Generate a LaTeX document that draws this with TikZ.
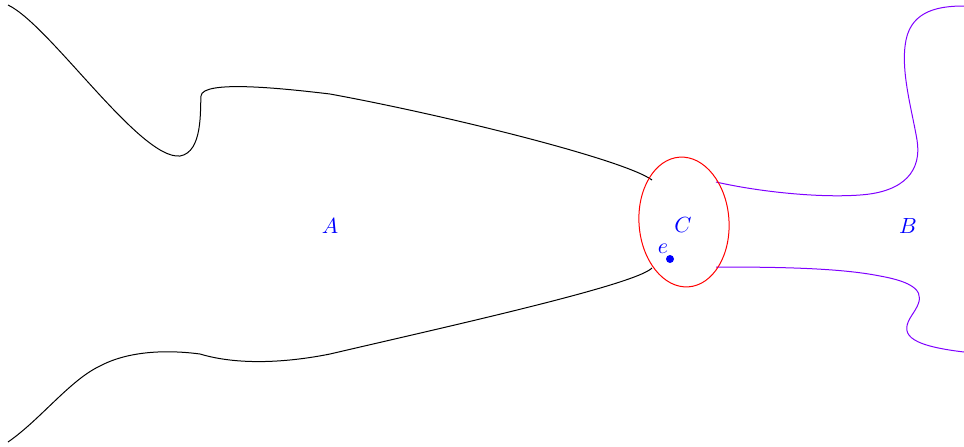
\documentclass[tikz,border=0pt]{standalone}
\usepackage{amsmath, amssymb}
\usepackage{tikz}
\usetikzlibrary{calc}
\usepackage{xcolor}
\definecolor{edgeviolet}{RGB}{127,0,255}
\tikzset{
  shoreline/.style={black, line width=0.5pt},
  rightline/.style={edgeviolet, line width=0.5pt},
  ringline/.style={red, line width=0.5pt},
  regionlabel/.style={text=blue, inner sep=1pt, font=\fontsize{11}{13}\selectfont},
}
\begin{document}
\begin{tikzpicture}[x=0.5pt, y=-0.5pt]

  \useasboundingbox (0,0) rectangle (964,446);

  % Region labels
  \node[regionlabel] (regA) at (330,226) {$A$};
  \node[regionlabel] (regB) at (908,226) {$B$};
  \node[regionlabel] (regC) at (683,225) {$C$};
  \node[regionlabel] (ptlabel) at (663,249) {$e$};
  \fill[blue] (670,259) circle[radius=2pt];

  % Left region boundary
  \draw[shoreline] (8,5) .. controls (50,25) and (140,160) .. (180,156)
        .. controls (203,152) and (200,110) .. (201,96)
        .. controls (202,80) and (280,88) .. (330,94)
        .. controls (450,116) and (625,160) .. (652,180);
  \draw[shoreline] (8,442) .. controls (40,420) and (70,380) .. (100,366)
        .. controls (130,350) and (170,350) .. (200,354)
        .. controls (240,366) and (290,362) .. (330,354)
        .. controls (450,326) and (635,285) .. (652,268);

  % Right region boundary
  \draw[rightline] (716,182) .. controls (760,192) and (820,198) .. (860,195)
        .. controls (905,192) and (922,170) .. (917,140)
        .. controls (912,110) and (900,70) .. (906,40)
        .. controls (912,10) and (940,6) .. (964,6);
  \draw[rightline] (716,267) .. controls (780,267) and (840,268) .. (880,276)
        .. controls (930,285) and (922,300) .. (912,315)
        .. controls (900,333) and (905,345) .. (964,352);

  % Neck around C
  \draw[ringline, rotate around={4:(684,222)}] (684,222)
        ellipse [x radius=45, y radius=65];

\end{tikzpicture}
\end{document}
